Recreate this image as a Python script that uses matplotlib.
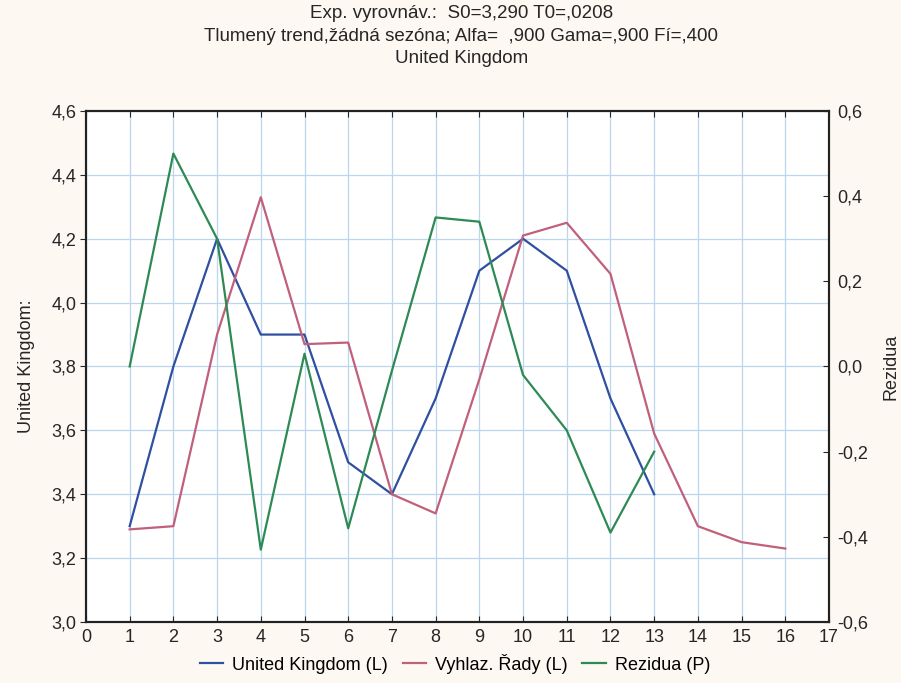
import matplotlib
matplotlib.use("Agg")
import matplotlib.pyplot as plt
from matplotlib.ticker import FuncFormatter, MultipleLocator

plt.rcParams['font.family'] = ['Liberation Sans', 'DejaVu Sans']

x_uk = list(range(1, 14))
uk = [3.30, 3.80, 4.20, 3.90, 3.90, 3.50, 3.40, 3.70, 4.10, 4.20, 4.10, 3.70, 3.40]

x_sm = list(range(1, 17))
smoothed = [3.29, 3.30, 3.90, 4.33, 3.87, 3.875, 3.40, 3.34, 3.76, 4.21, 4.25, 4.09, 3.59, 3.30, 3.25, 3.23]

x_res = list(range(1, 14))
resid = [0.00, 0.50, 0.30, -0.43, 0.03, -0.38, -0.01, 0.35, 0.34, -0.02, -0.15, -0.39, -0.20]

title = "Exp. vyrovnáv.:  S0=3,290 T0=,0208\nTlumený trend,žádná sezóna; Alfa=  ,900 Gama=,900 Fí=,400\nUnited Kingdom"

c_uk = '#2f4fa0'
c_sm = '#c0607a'
c_res = '#2e8a55'
bg = '#fdf8f1'
tc = '#262626'

fig = plt.figure(figsize=(9.01, 6.83), dpi=100, facecolor=bg)
ax = fig.add_axes([0.0954, 0.0893, 0.8247, 0.7482])
ax.set_facecolor('white')
ax2 = ax.twinx()

l1, = ax.plot(x_uk, uk, color=c_uk, lw=1.6, label='United Kingdom (L)')
l2, = ax.plot(x_sm, smoothed, color=c_sm, lw=1.6, label='Vyhlaz. Řady (L)')
l3, = ax2.plot(x_res, resid, color=c_res, lw=1.6, label='Rezidua (P)')

ax.set_xlim(0, 17)
ax.set_ylim(3.0, 4.6)
ax2.set_ylim(-0.6, 0.6)
ax.xaxis.set_major_locator(MultipleLocator(1))
ax.yaxis.set_major_locator(MultipleLocator(0.2))
ax2.yaxis.set_major_locator(MultipleLocator(0.2))

fmt = FuncFormatter(lambda v, p: ("%.1f" % v).replace('.', ',').replace('-0,0', '0,0'))
ax.yaxis.set_major_formatter(fmt)
ax2.yaxis.set_major_formatter(fmt)

ax.grid(True, color='#bcd6ee', lw=0.9)
ax.set_axisbelow(True)
for a in (ax, ax2):
    for s in a.spines.values():
        s.set_color('#222222')
        s.set_linewidth(1.5)
ax.tick_params(axis='both', labelsize=13, colors=tc, length=4, width=0.8)
ax.tick_params(axis='x', direction='in', top=True, pad=5)
ax.tick_params(axis='y', pad=3)
ax2.tick_params(axis='y', labelsize=13, colors=tc, direction='in', length=4, width=0.8, pad=6)

ax.set_ylabel('United Kingdom:', fontsize=13, color=tc, labelpad=12)
ax2.set_ylabel('Rezidua', fontsize=13, color=tc, labelpad=10)

fig.text(0.512, 0.992, title, ha='center', va='top', fontsize=13.5, color=tc, linespacing=1.4)

fig.legend(handles=[l1, l2, l3], loc='lower center', bbox_to_anchor=(0.505, -0.01), ncol=3,
           frameon=False, fontsize=13, handlelength=1.3, handletextpad=0.5, columnspacing=0.8)

fig.savefig('out.png', dpi=100, facecolor=bg)
